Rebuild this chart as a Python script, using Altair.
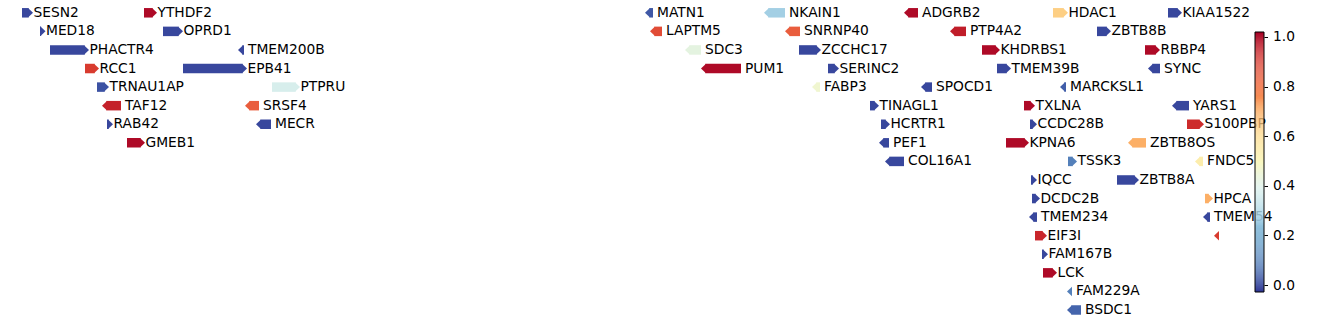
import altair as alt
import numpy as np
import pandas as pd

# ---- data (positions in kb) ----
names = ["SESN2", "YTHDF2", "MATN1", "NKAIN1", "ADGRB2", "HDAC1", "KIAA1522",
         "MED18", "OPRD1", "LAPTM5", "SNRNP40", "PTP4A2", "ZBTB8B",
         "PHACTR4", "TMEM200B", "SDC3", "ZCCHC17", "KHDRBS1", "RBBP4",
         "RCC1", "EPB41", "PUM1", "SERINC2", "TMEM39B", "SYNC",
         "TRNAU1AP", "PTPRU", "FABP3", "SPOCD1", "MARCKSL1",
         "TAF12", "SRSF4", "TINAGL1", "TXLNA", "YARS1",
         "RAB42", "MECR", "HCRTR1", "CCDC28B", "S100PBP",
         "GMEB1", "PEF1", "KPNA6", "ZBTB8OS",
         "COL16A1", "TSSK3", "FNDC5",
         "IQCC", "ZBTB8A",
         "DCDC2B", "HPCA",
         "TMEM234", "TMEM54",
         "EIF3I", "",
         "FAM167B", "LCK", "FAM229A", "BSDC1"]
rows = [0, 0, 0, 0, 0, 0, 0,
        1, 1, 1, 1, 1, 1,
        2, 2, 2, 2, 2, 2,
        3, 3, 3, 3, 3, 3,
        4, 4, 4, 4, 4,
        5, 5, 5, 5, 5,
        6, 6, 6, 6, 6,
        7, 7, 7, 7,
        8, 8, 8,
        9, 9,
        10, 10,
        11, 11,
        12, 12,
        13, 14, 15, 16]
starts = [28088, 28576, 30580, 31056, 31616, 32212, 32672,
          28160, 28652, 30600, 31140, 31800, 32388,
          28200, 28952, 30740, 31196, 31928, 32580,
          28340, 28732, 30804, 31312, 31988, 32592,
          28388, 29088, 31248, 31684, 32240,
          28408, 28980, 31480, 32096, 32688,
          28428, 29024, 31524, 32120, 32748,
          28508, 31516, 32024, 32512,
          31540, 32272, 32780,
          32124, 32468,
          32128, 32820,
          32116, 32812,
          32140, 32856,
          32168, 32172, 32268, 32268]
ends = [28132, 28628, 30612, 31140, 31672, 32272, 32728,
        28182, 28732, 30648, 31200, 31864, 32444,
        28356, 28976, 30804, 31284, 32000, 32640,
        28396, 28988, 30964, 31356, 32044, 32640,
        28436, 29200, 31280, 31728, 32264,
        28484, 29036, 31516, 32140, 32756,
        28452, 29084, 31560, 32148, 32816,
        28580, 31556, 32116, 32584,
        31616, 32308, 32812,
        32148, 32556,
        32160, 32852,
        32148, 32840,
        32188, 32876,
        32192, 32228, 32288, 32324]
strands = ["+", "+", "-", "-", "-", "+", "+",
           "+", "+", "-", "-", "-", "+",
           "+", "-", "-", "+", "+", "+",
           "+", "+", "-", "+", "+", "-",
           "+", "+", "-", "-", "-",
           "-", "-", "+", "+", "-",
           "+", "-", "+", "+", "+",
           "+", "-", "+", "-",
           "-", "+", "-",
           "+", "+",
           "+", "+",
           "-", "-",
           "+", "-",
           "+", "+", "-", "-"]
values = [0.0, 1.0, 0.03, 0.27, 1.0, 0.63, 0.0,
          0.0, 0.0, 0.87, 0.84, 0.96, 0.0,
          0.0, 0.0, 0.42, 0.0, 1.0, 1.0,
          0.9, 0.0, 1.0, 0.0, 0.0, 0.0,
          0.02, 0.38, 0.46, 0.0, 0.04,
          0.95, 0.84, 0.0, 1.0, 0.0,
          0.0, 0.0, 0.0, 0.0, 0.93,
          1.0, 0.0, 1.0, 0.7,
          0.0, 0.1, 0.54,
          0.0, 0.0,
          0.0, 0.7,
          0.0, 0.0,
          0.94, 0.9,
          0.0, 1.0, 0.1, 0.05]

cbar_min, cbar_max = -0.028, 1.02
cbar_ticks = [0.0, 0.2, 0.4, 0.6, 0.8, 1.0]

# ---- layout constants ----
W, H = 1230, 324
xdom = [28000, 28000 + 4 * W]
ydom = [-0.689, 16.754]
HEAD_PX = 5.0
HALF_PX = 4.75
head = HEAD_PX * (xdom[1] - xdom[0]) / W
overlap = 0.6 * (xdom[1] - xdom[0]) / W
half = HALF_PX * (ydom[1] - ydom[0]) / H

df = pd.DataFrame({"name": names, "row": rows, "start": starts, "end": ends,
                   "strand": strands, "value": values})
plus = df["strand"] == "+"
s = df["start"].astype(float)
e = df["end"].astype(float)
b1_plus = np.where(e - head > s, e - head + overlap, s)
b0_minus = np.where(s + head < e, s + head - overlap, e)
df["b0"] = np.where(plus, s, b0_minus)
df["b1"] = np.where(plus, b1_plus, e)
df["tip"] = np.where(plus, e, s)
df["y0"] = df["row"] - half
df["y1"] = df["row"] + half

xs = alt.Scale(domain=xdom, nice=False, zero=False)
ys = alt.Scale(domain=ydom, nice=False, zero=False, reverse=True)
cs = alt.Scale(scheme="redyellowblue", reverse=True, domain=[cbar_min, cbar_max])

r = HEAD_PX / HALF_PX
path_plus = f"M{-r:.4f},-1L0,0L{-r:.4f},1Z"
path_minus = f"M{r:.4f},-1L0,0L{r:.4f},1Z"

base = alt.Chart(df)
body = base.mark_rect(strokeWidth=0).encode(
    x=alt.X("b0:Q", scale=xs, axis=None),
    x2="b1:Q",
    y=alt.Y("y0:Q", scale=ys, axis=None),
    y2="y1:Q",
    color=alt.Color("value:Q", scale=cs, legend=None),
)
heads = base.mark_point(filled=True, opacity=1, strokeWidth=0,
                        size=(2 * HALF_PX) ** 2).encode(
    x=alt.X("tip:Q", scale=xs, axis=None),
    y=alt.Y("row:Q", scale=ys, axis=None),
    shape=alt.Shape("strand:N", scale=alt.Scale(domain=["+", "-"],
                                                range=[path_plus, path_minus]),
                    legend=None),
    color=alt.Color("value:Q", scale=cs, legend=None),
)
font = dict(font="DejaVu Sans", fontSize=13.8, color="black",
            align="left", baseline="middle")
text_plus = base.transform_filter(alt.datum.strand == "+").mark_text(dx=0.5, **font).encode(
    x=alt.X("end:Q", scale=xs, axis=None),
    y=alt.Y("row:Q", scale=ys, axis=None),
    text="name:N",
)
text_minus = base.transform_filter(alt.datum.strand == "-").mark_text(dx=4, **font).encode(
    x=alt.X("end:Q", scale=xs, axis=None),
    y=alt.Y("row:Q", scale=ys, axis=None),
    text="name:N",
)
main = alt.layer(body, heads, text_plus, text_minus).properties(width=W, height=H)

# ---- colorbar ----
edges = np.linspace(cbar_min, cbar_max, 257)
cbdf = pd.DataFrame({"lo": edges[:-1], "hi": edges[1:],
                     "mid": (edges[:-1] + edges[1:]) / 2})
cb_scale = alt.Scale(domain=[cbar_min, 1.149], nice=False, zero=False)
cb_rects = alt.Chart(cbdf).mark_rect(strokeWidth=0).encode(
    x=alt.value(0), x2=alt.value(9),
    y=alt.Y("lo:Q", scale=cb_scale,
            axis=alt.Axis(orient="right", values=cbar_ticks, format=".1f",
                          title=None, domain=False, grid=False, tickSize=3.5,
                          tickColor="black", tickWidth=1, labelPadding=5,
                          labelFont="DejaVu Sans", labelFontSize=13.8,
                          labelColor="black")),
    y2="hi:Q",
    color=alt.Color("mid:Q", scale=cs, legend=None),
)
cb_border = alt.Chart(pd.DataFrame({"lo": [cbar_min], "hi": [cbar_max]})).mark_rect(
    filled=False, stroke="black", strokeWidth=1).encode(
    x=alt.value(0), x2=alt.value(9),
    y=alt.Y("lo:Q", scale=cb_scale),
    y2="hi:Q",
)
colorbar = alt.layer(cb_rects, cb_border).properties(width=9, height=292)

chart = (
    alt.hconcat(main, colorbar, spacing=25, bounds="flush")
    .properties(padding=0)
    .configure(background="white")
    .configure_view(strokeWidth=0, stroke="transparent")
)

chart.save("out.html", embed_options={"renderer": "svg", "actions": False})
